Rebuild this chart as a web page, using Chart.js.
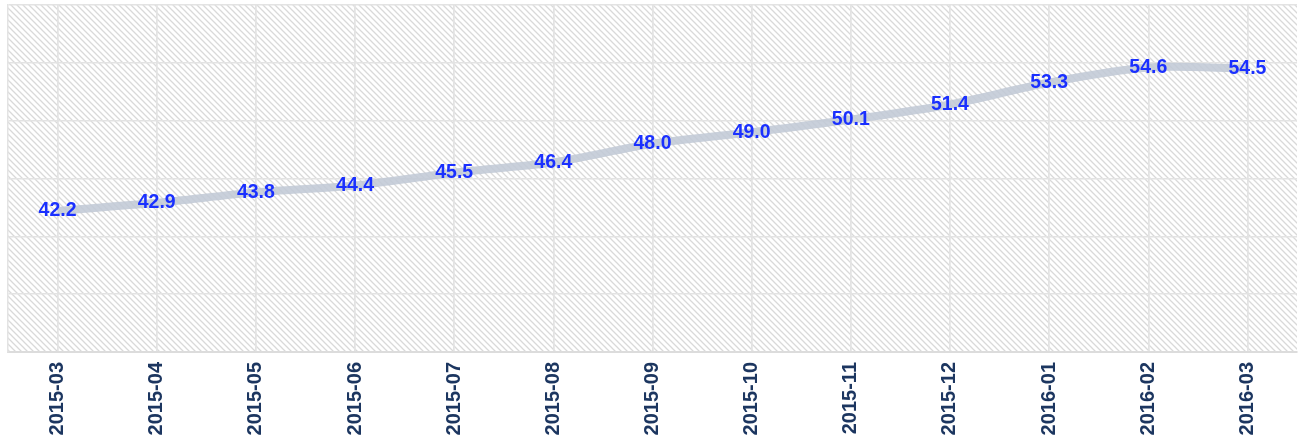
<!DOCTYPE html>
<html>
<head>
<meta charset="utf-8">
<script src="https://cdn.jsdelivr.net/npm/chart.js@4/dist/chart.umd.min.js"></script>
<style>
  html, body { margin: 0; padding: 0; background: #fff; }
  #wrap { width: 1299px; height: 443px; }
</style>
</head>
<body>
<div id="wrap"><canvas id="main-chart"></canvas></div>
<script>
var months = ["2015-03","2015-04","2015-05","2015-06","2015-07","2015-08","2015-09","2015-10","2015-11","2015-12","2016-01","2016-02","2016-03"];
var values = [42.2,42.9,43.8,44.4,45.5,46.4,48.0,49.0,50.1,51.4,53.3,54.6,54.5];
var yMin = 30, yMax = 60, yStep = 5;

// diagonal hatch pattern for the plot area
function makeHatch() {
  var c = document.createElement('canvas');
  c.width = 6; c.height = 6;
  var g = c.getContext('2d');
  g.strokeStyle = '#d9d9d9';
  g.lineWidth = 1.3;
  g.beginPath();
  g.moveTo(-1, -1); g.lineTo(7, 7);
  g.moveTo(-1, 5); g.lineTo(1, 7);
  g.moveTo(5, -1); g.lineTo(7, 1);
  g.stroke();
  return g.createPattern(c, 'repeat');
}

var hatchBg = {
  id: 'hatchBg',
  beforeDraw: function(chart) {
    var a = chart.chartArea, ctx = chart.ctx;
    ctx.save();
    ctx.fillStyle = makeHatch();
    ctx.fillRect(a.left, a.top, a.right - a.left, a.bottom - a.top);
    ctx.restore();
  }
};

var pointLabels = {
  id: 'pointLabels',
  afterDatasetsDraw: function(chart) {
    var ctx = chart.ctx;
    var meta = chart.getDatasetMeta(0);
    ctx.save();
    ctx.font = 'bold 19.5px "Liberation Sans", Arial, sans-serif';
    ctx.fillStyle = '#1a30ff';
    ctx.textAlign = 'center';
    ctx.textBaseline = 'middle';
    meta.data.forEach(function(pt, i) {
      ctx.fillText(values[i].toFixed(1), pt.x, pt.y);
    });
    ctx.restore();
  }
};

const mainChart = new Chart(document.getElementById('main-chart'), {
  type: 'line',
  data: {
    labels: months,
    datasets: [{
      data: values,
      borderColor: 'rgba(192,200,213,0.85)',
      borderWidth: 8,
      pointRadius: 0,
      tension: 0.3,
      fill: false
    }]
  },
  options: {
    responsive: true,
    maintainAspectRatio: false,
    animation: false,
    layout: { padding: { left: 8, right: 2, top: 5, bottom: 0 } },
    plugins: {
      legend: { display: false },
      tooltip: { enabled: false }
    },
    scales: {
      x: {
        offset: true,
        grid: { color: '#e3e3e3', lineWidth: 1.5, drawTicks: false },
        border: { color: '#dcdcdc', width: 2 },
        ticks: {
          color: '#1c3660',
          font: { family: '"Liberation Sans", Arial, sans-serif', size: 20, weight: 'bold' },
          maxRotation: 90,
          minRotation: 90,
          padding: 10,
          autoSkip: false
        },
        afterFit: function(scale) { scale.height = 91; }
      },
      x2: {
        type: 'category',
        labels: months,
        position: 'bottom',
        offset: true,
        grid: { offset: false, color: '#e3e3e3', lineWidth: 1.5, drawTicks: false },
        border: { display: false },
        ticks: { display: false },
        afterFit: function(scale) { scale.height = 0; }
      },
      y: {
        min: yMin,
        max: yMax,
        grid: { color: '#e3e3e3', lineWidth: 1.5, drawTicks: false },
        border: { color: '#e3e3e3', width: 1.5 },
        ticks: { display: false, stepSize: yStep }
      }
    }
  },
  plugins: [hatchBg, pointLabels]
});
</script>
</body>
</html>
